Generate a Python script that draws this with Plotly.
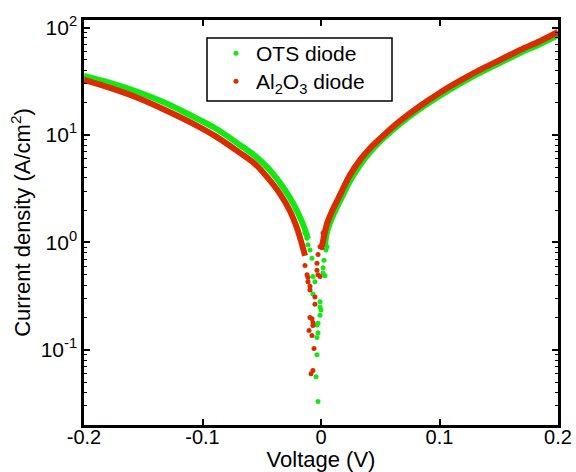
import plotly.graph_objects as go

# ---- data ----
# OTS diode (green): smooth branches and scattered points near the dip
ots_left_v = [-0.2, -0.178, -0.1544, -0.1316, -0.1089, -0.0895, -0.0684, -0.0557,
              -0.0456, -0.0346, -0.0262, -0.0194, -0.0143, -0.011]
ots_left_j = [35.4, 30.5, 25.1, 19.9, 15.0, 11.6, 8.07, 6.38,
              5.05, 3.58, 2.60, 1.88, 1.39, 1.08]
ots_right_v = [0.0034, 0.0051, 0.0093, 0.0135, 0.0186, 0.0245, 0.033, 0.0415, 0.054,
               0.0667, 0.0835, 0.1, 0.117, 0.134, 0.151, 0.168, 0.185, 0.2]
ots_right_j = [0.94, 1.25, 1.69, 2.14, 2.77, 3.73, 5.26, 6.95, 9.6,
               12.7, 17.5, 23.1, 29.9, 37.8, 46.8, 57.9, 70.3, 85.1]
ots_dip_v = [-0.0135, -0.0118, -0.011, -0.0093, -0.0076, -0.0068, -0.0051, -0.0068,
             -0.0008, -0.0008, 0.0, -0.0008, -0.0025, -0.0034, -0.0025, -0.0034,
             -0.0034, -0.0042, -0.0025,
             0.0051, 0.0042, 0.0025, 0.0017, 0.0017, 0.0034]
ots_dip_j = [1.22, 1.09, 0.95, 0.85, 0.71, 0.48, 0.43, 0.33,
             0.28, 0.25, 0.235, 0.21, 0.177, 0.17, 0.144, 0.13,
             0.09, 0.056, 0.033,
             0.91, 0.85, 0.68, 0.58, 0.52, 0.49]

# Al2O3 diode (red)
al_left_v = [-0.2, -0.178, -0.1544, -0.1316, -0.1089, -0.0895, -0.0684, -0.0557,
             -0.0456, -0.0346, -0.0262, -0.0203, -0.016, -0.0135]
al_left_j = [32.5, 27.4, 22.1, 17.1, 12.9, 9.8, 6.81, 5.37,
             4.07, 2.83, 1.96, 1.36, 0.95, 0.75]
al_right_v = [0.0008, 0.005, 0.009, 0.0135, 0.0185, 0.0245, 0.033, 0.0415, 0.054,
              0.0667, 0.0835, 0.1, 0.117, 0.134, 0.151, 0.168, 0.185, 0.2]
al_right_j = [0.91, 1.49, 1.92, 2.43, 3.15, 4.25, 5.86, 7.57, 10.2,
              13.5, 18.6, 24.6, 31.8, 40.3, 49.9, 61.8, 75.0, 90.8]
al_dip_v = [-0.0135, -0.0118, -0.011, -0.011, -0.0093, -0.0093, -0.0051, -0.0051,
            -0.0093, -0.0076, -0.0068, -0.0068, -0.0101, -0.0076, -0.0059, -0.0068,
            -0.0084,
            0.0017, -0.0008, 0.0008, -0.0025, -0.0034, -0.0034, -0.0025, -0.0008]
al_dip_j = [0.61, 0.5, 0.47, 0.43, 0.39, 0.36, 0.31, 0.265,
            0.2, 0.195, 0.18, 0.168, 0.151, 0.136, 0.103, 0.064,
            0.06,
            1.22, 0.91, 0.89, 0.77, 0.64, 0.55, 0.5, 0.48]

x_ticks = [-0.2, -0.1, 0, 0.1, 0.2]
x_ticktext = ["-0.2", "-0.1", "0", "0.1", "0.2"]
y_ticks = [0.1, 1, 10, 100]
y_ticktext = ["10<sup>-1</sup>", "10<sup>0</sup>", "10<sup>1</sup>", "10<sup>2</sup>"]

GREEN = "#14e814"
RED = "#d92d00"

fig = go.Figure()
for v, j in [(ots_left_v, ots_left_j), (ots_right_v, ots_right_j)]:
    fig.add_trace(go.Scatter(x=v, y=j, mode="lines", line=dict(color=GREEN, width=6, shape="spline"),
                             showlegend=False, hoverinfo="skip"))
fig.add_trace(go.Scatter(x=ots_dip_v, y=ots_dip_j, mode="markers", name="OTS diode",
                         marker=dict(color=GREEN, size=5), legend="legend"))
for v, j in [(al_left_v, al_left_j), (al_right_v, al_right_j)]:
    fig.add_trace(go.Scatter(x=v, y=j, mode="lines", line=dict(color=RED, width=6, shape="spline"),
                             showlegend=False, hoverinfo="skip"))
fig.add_trace(go.Scatter(x=al_dip_v, y=al_dip_j, mode="markers", name="Al<sub>2</sub>O<sub>3</sub> diode",
                         marker=dict(color=RED, size=5), legend="legend2"))

FAM = "Liberation Sans, Arial, sans-serif"
tick_font = dict(family=FAM, size=21, color="black")
xtick_font = dict(family=FAM, size=20, color="black")
title_font = dict(family=FAM, size=22, color="black")
legend_font = dict(family=FAM, size=21, color="black")

L, R, T, B = 84, 18, 20, 47
PW, PH = 576 - L - R, 472 - T - B


def px_x(x):
    return (x - L) / PW


def px_y(y):
    return 1 - (y - T) / PH


leg_common = dict(xanchor="left", yanchor="top", bgcolor="rgba(0,0,0,0)", borderwidth=0,
                  font=legend_font)

fig.update_layout(
    width=576, height=472,
    margin=dict(l=L, r=R, t=T, b=B, autoexpand=False),
    paper_bgcolor="white", plot_bgcolor="white",
    font=tick_font,
    showlegend=True,
    legend=dict(x=px_x(216), y=px_y(33), **leg_common),
    legend2=dict(x=px_x(216), y=px_y(61), **leg_common),
    shapes=[dict(type="rect", xref="paper", yref="paper",
                 x0=px_x(207), x1=px_x(392), y0=px_y(101), y1=px_y(38),
                 line=dict(color="black", width=1.5), fillcolor="white", layer="below")],
)
fig.update_xaxes(
    range=[-0.2, 0.2], tickvals=x_ticks, ticktext=x_ticktext, automargin=False,
    showline=True, linecolor="black", linewidth=2.5, mirror="ticks",
    ticks="inside", ticklen=6, tickwidth=1.5, tickcolor="black",
    tickfont=xtick_font, showgrid=False, zeroline=False, ticklabelstandoff=-8,
    title=dict(text="Voltage (V)", font=title_font, standoff=3),
)
fig.update_yaxes(
    type="log", range=[-1.70, 2.07], tickvals=y_ticks, ticktext=y_ticktext, automargin=False,
    showline=True, linecolor="black", linewidth=2.5, mirror="ticks",
    ticks="inside", ticklen=6, tickwidth=1.5, tickcolor="black",
    minor=dict(ticks="inside", ticklen=3, tickwidth=1, tickcolor="black", dtick="D1", showgrid=False),
    tickfont=tick_font, showgrid=False, zeroline=False,
    title=dict(text="Current density (A/cm<sup>2</sup>)", font=title_font, standoff=4),
)

fig.write_html("out.html", config={"displayModeBar": False},
               post_script="document.body.style.margin='0';document.body.style.overflow='hidden';")
